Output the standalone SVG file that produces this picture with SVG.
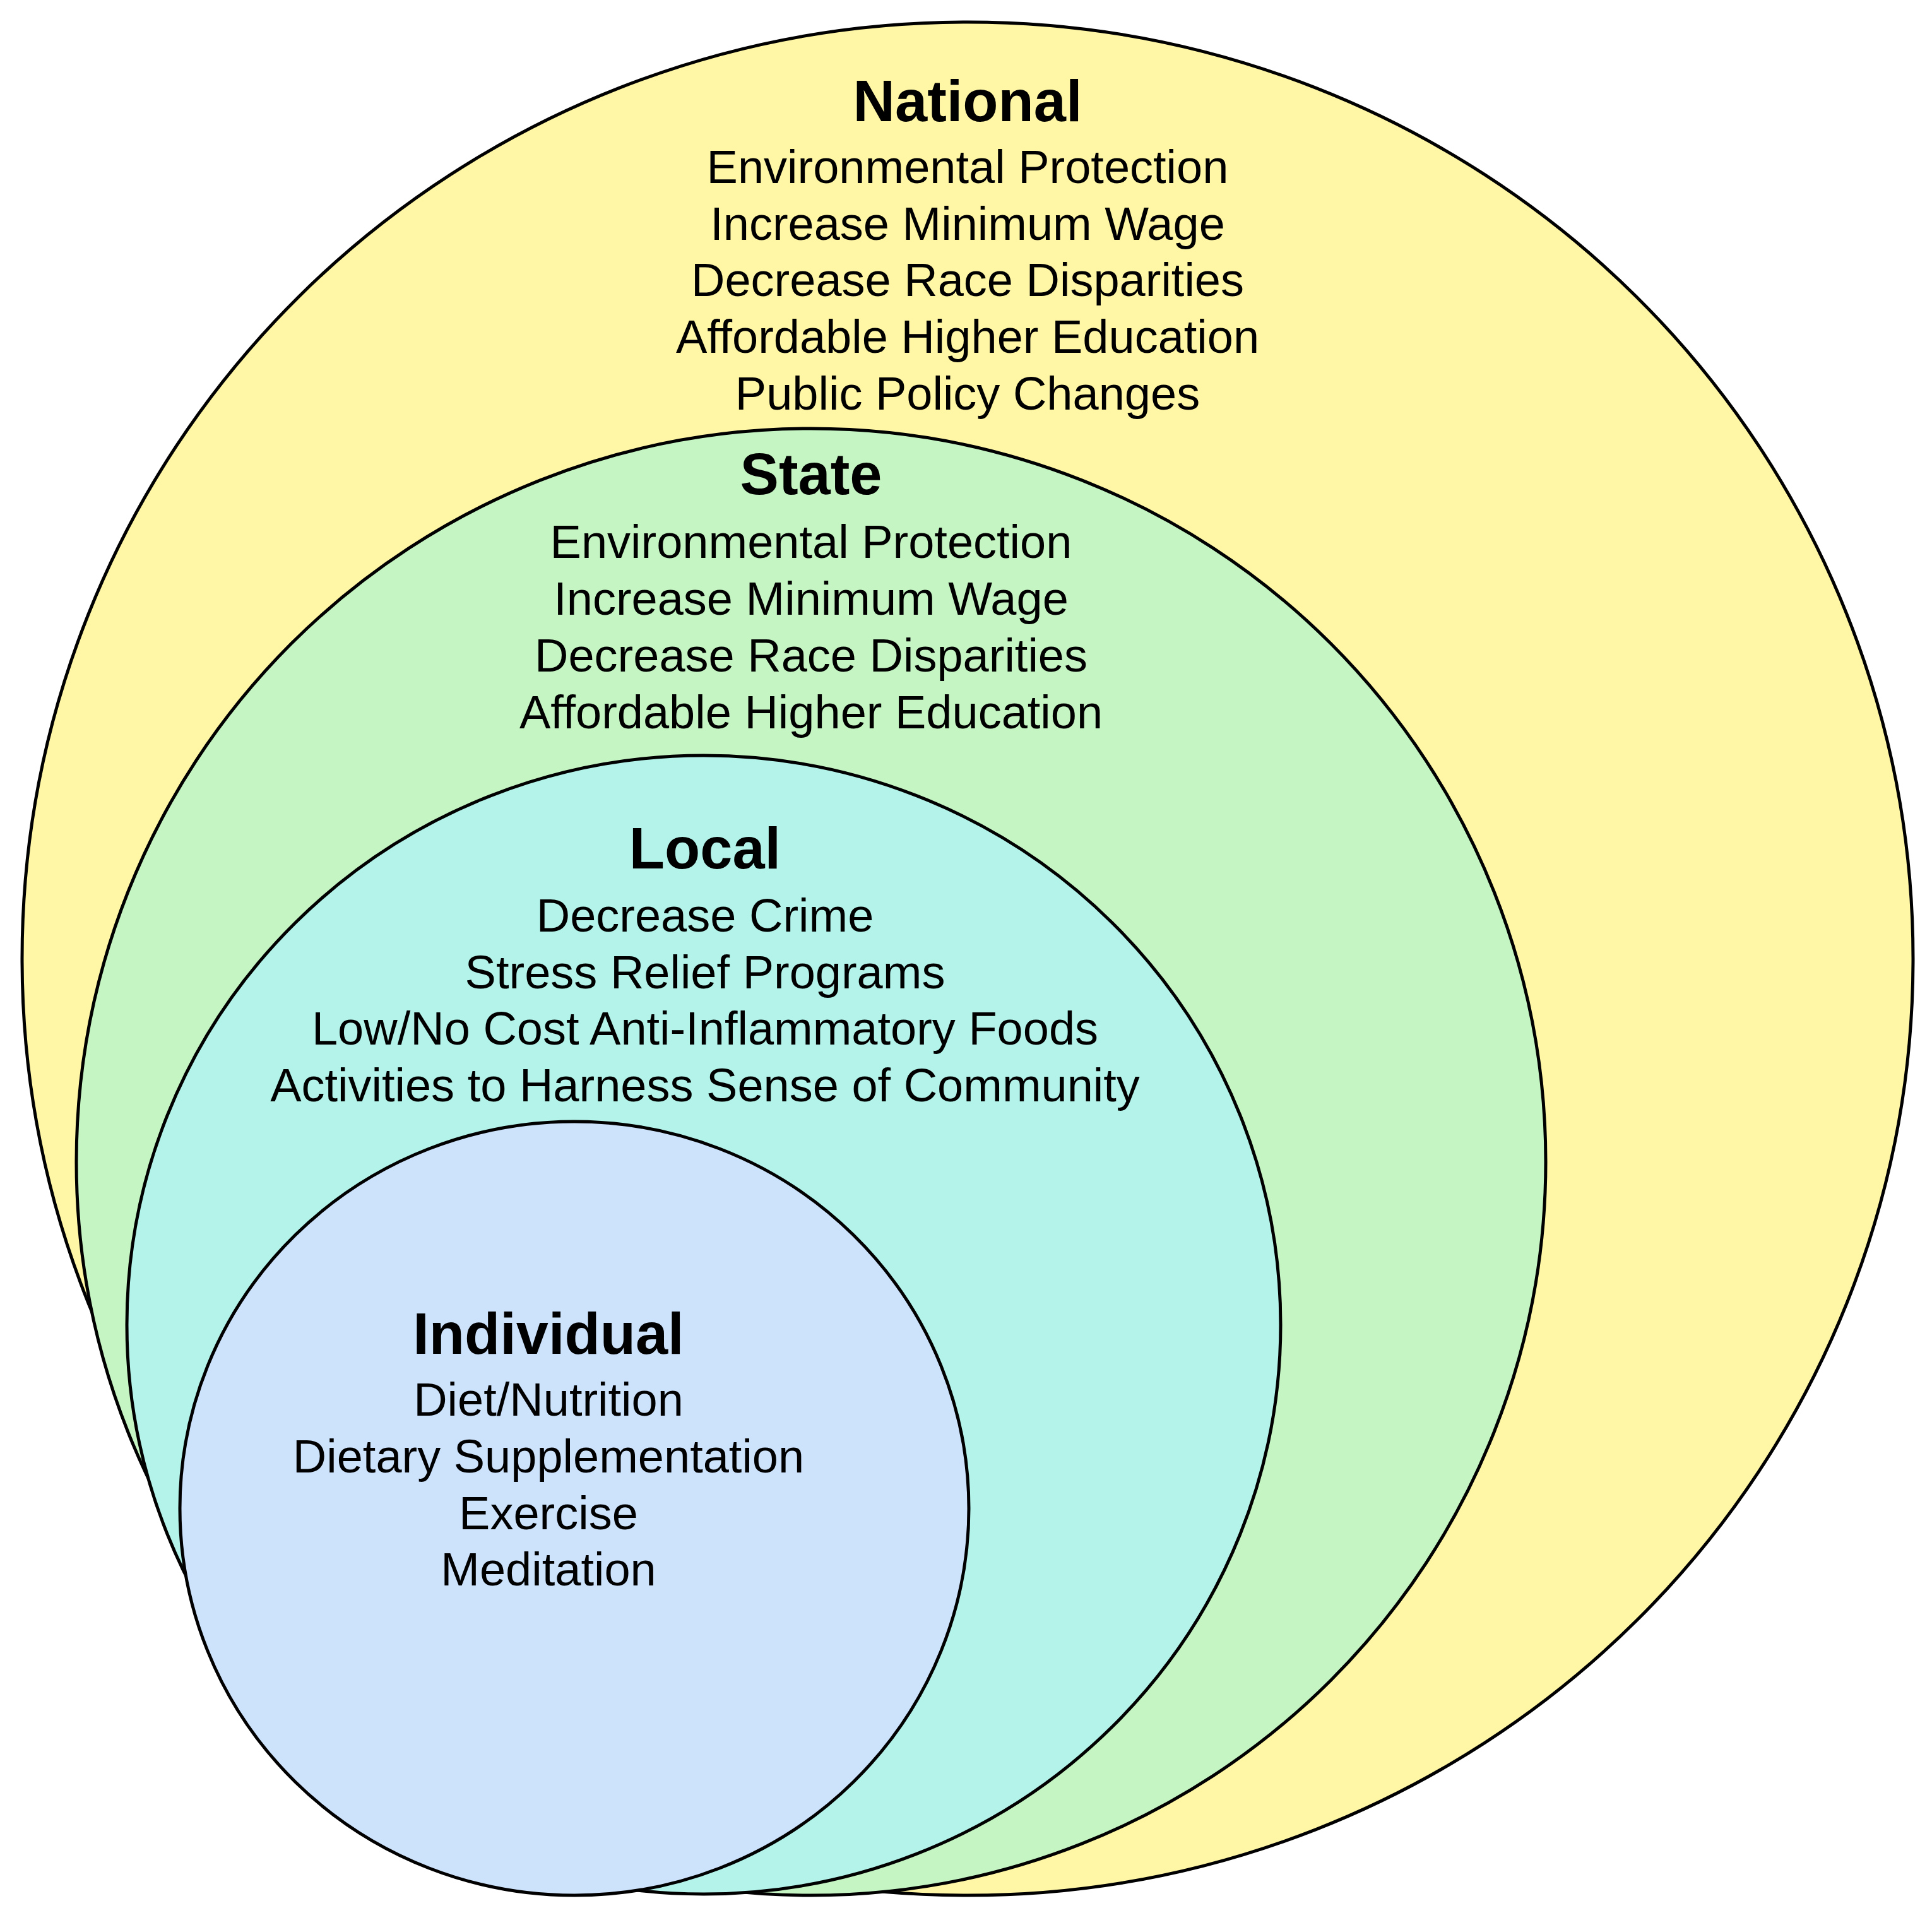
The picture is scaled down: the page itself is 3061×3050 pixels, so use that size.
<svg xmlns="http://www.w3.org/2000/svg" width="3061" height="3050" viewBox="0 0 3061 3050">
<style>
.c{stroke:#000;stroke-width:5}
.t{font-family:"Liberation Sans",Arial,sans-serif;font-size:74px;text-anchor:middle;fill:#000}
.h{font-family:"Liberation Sans",Arial,sans-serif;font-size:92px;font-weight:bold;text-anchor:middle;fill:#000}
</style>
<rect width="3061" height="3050" fill="#fff"/>
<g id="national">
<ellipse class="c" cx="1533" cy="1519" rx="1498" ry="1484" fill="#fff6a6"/>
<text class="h" x="1533" y="192">National</text>
<text class="t" x="1533" y="290">Environmental Protection</text>
<text class="t" x="1533" y="380">Increase Minimum Wage</text>
<text class="t" x="1533" y="469">Decrease Race Disparities</text>
<text class="t" x="1533" y="559">Affordable Higher Education</text>
<text class="t" x="1533" y="649">Public Policy Changes</text>
</g>
<g id="state">
<ellipse class="c" cx="1285" cy="1841" rx="1164" ry="1162" fill="#c6f5c4"/>
<text class="h" x="1285" y="783">State</text>
<text class="t" x="1285" y="884">Environmental Protection</text>
<text class="t" x="1285" y="974">Increase Minimum Wage</text>
<text class="t" x="1285" y="1064">Decrease Race Disparities</text>
<text class="t" x="1285" y="1154">Affordable Higher Education</text>
</g>
<g id="local">
<ellipse class="c" cx="1115" cy="2099" rx="914" ry="902" fill="#b3f3ea"/>
<text class="h" x="1117" y="1376">Local</text>
<text class="t" x="1117" y="1476">Decrease Crime</text>
<text class="t" x="1117" y="1566">Stress Relief Programs</text>
<text class="t" x="1117" y="1655">Low/No Cost Anti-Inflammatory Foods</text>
<text class="t" x="1117" y="1745">Activities to Harness Sense of Community</text>
</g>
<g id="individual">
<ellipse class="c" cx="910" cy="2390" rx="625" ry="613" fill="#cde2fb"/>
<text class="h" x="869" y="2145">Individual</text>
<text class="t" x="869" y="2243">Diet/Nutrition</text>
<text class="t" x="869" y="2333">Dietary Supplementation</text>
<text class="t" x="869" y="2423">Exercise</text>
<text class="t" x="869" y="2512">Meditation</text>
</g>
<g id="connectors"/>
</svg>
